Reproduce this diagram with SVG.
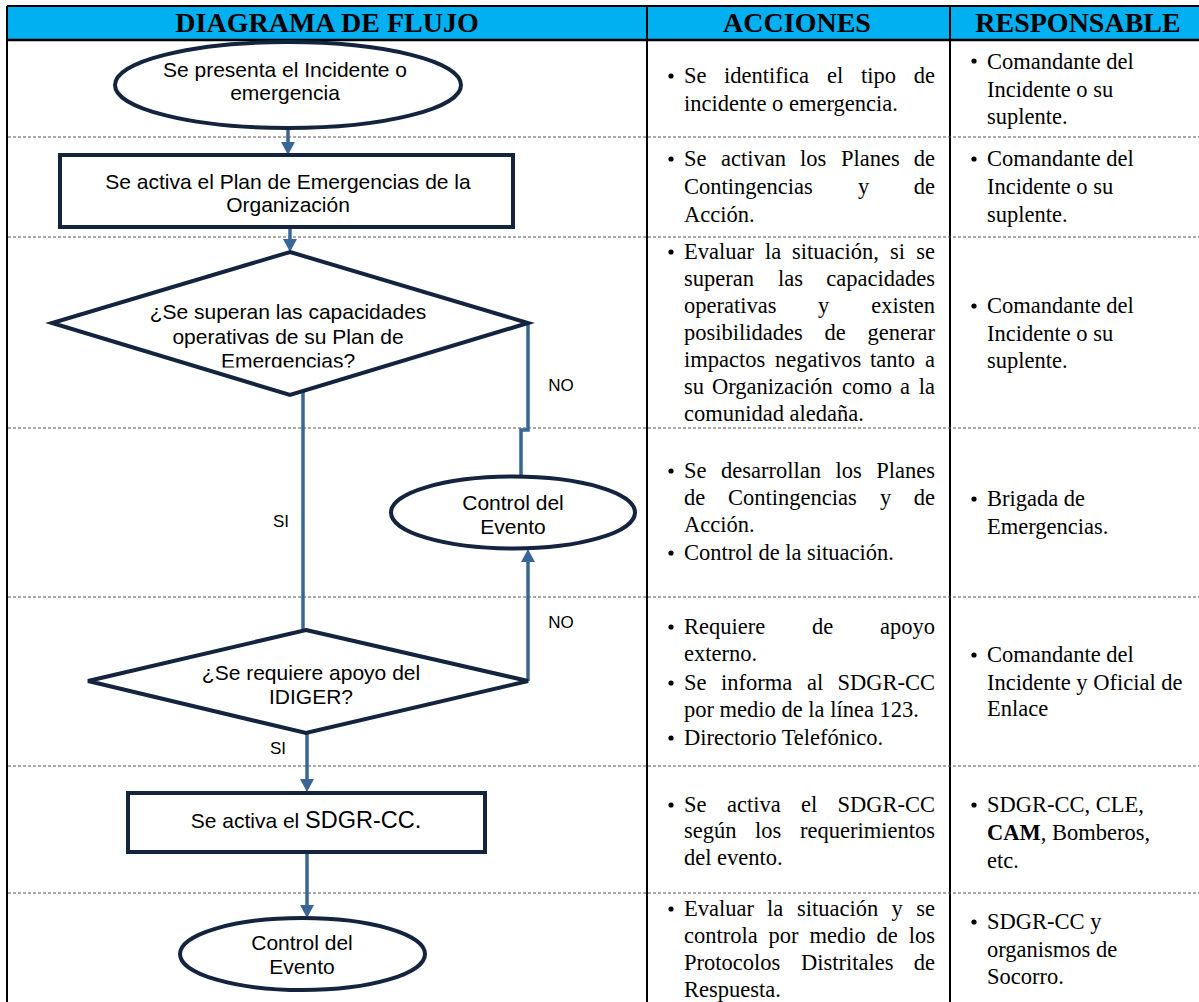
<svg xmlns="http://www.w3.org/2000/svg" width="1199" height="1002" viewBox="0 0 1199 1002">
<style>
.hdr{font-family:"Liberation Serif","Times New Roman",serif;font-weight:bold;font-size:28px;fill:#000;text-anchor:middle}
.nt{font-family:"Liberation Sans",Arial,sans-serif;font-size:21px;fill:#000;text-anchor:middle}
.lbl{font-family:"Liberation Sans",Arial,sans-serif;font-size:17px;fill:#000;text-anchor:middle}
.tx{font-family:"Liberation Serif","Times New Roman",serif;font-size:22.5px;fill:#000}
.te{text-anchor:end}
.node{fill:#fff;stroke:#14243e;stroke-width:4}
.conn{fill:none;stroke:#3a6597;stroke-width:3.5}
.grid{stroke:#000;stroke-width:2}
.dash{stroke:#555;stroke-width:1;stroke-dasharray:3 2}
.bul{fill:#000}
</style>
<defs>
<marker id="arr" markerUnits="userSpaceOnUse" markerWidth="14" markerHeight="14" refX="3" refY="7" orient="auto">
<path d="M0,0 L13,7 L0,14 Z" fill="#3a6597"/>
</marker>
<clipPath id="clipD1"><rect x="40" y="240" width="500" height="127.5"/></clipPath>
</defs>

<g id="table">
<rect x="7" y="6" width="1192" height="34" fill="#00b0f0"/>
<line class="grid" x1="7" y1="6" x2="1199" y2="6"/>
<line x1="7" y1="40" x2="1199" y2="40" stroke="#000" stroke-width="2.5"/>
<line class="grid" x1="7" y1="6" x2="7" y2="1002"/>
<line class="grid" x1="647" y1="6" x2="647" y2="1002"/>
<line class="grid" x1="950" y1="6" x2="950" y2="1002"/>
<line class="dash" x1="8" y1="137" x2="1199" y2="137"/>
<line class="dash" x1="8" y1="237" x2="1199" y2="237"/>
<line class="dash" x1="8" y1="428" x2="1199" y2="428"/>
<line class="dash" x1="8" y1="597" x2="1199" y2="597"/>
<line class="dash" x1="8" y1="766" x2="1199" y2="766"/>
<line class="dash" x1="8" y1="893" x2="1199" y2="893"/>
<text class="hdr" x="327" y="32">DIAGRAMA DE FLUJO</text>
<text class="hdr" x="797" y="32">ACCIONES</text>
<text class="hdr" x="1078" y="32">RESPONSABLE</text>
</g>

<g id="connectors">
<path class="conn" d="M288,128 L288,145" marker-end="url(#arr)"/>
<path class="conn" d="M290,227 L290,242" marker-end="url(#arr)"/>
<path class="conn" d="M303,391 L303,631"/>
<path class="conn" d="M528,323 L528,430 L521,430 L521,477"/>
<path class="conn" d="M528,681 L528,559" marker-end="url(#arr)"/>
<path class="conn" d="M307,733 L307,782" marker-end="url(#arr)"/>
<path class="conn" d="M307,852 L307,908" marker-end="url(#arr)"/>
<text class="lbl" x="561" y="391">NO</text>
<text class="lbl" x="281" y="527">SI</text>
<text class="lbl" x="561" y="628">NO</text>
<text class="lbl" x="278" y="754">SI</text>
</g>

<g id="n1">
<ellipse class="node" cx="288" cy="85" rx="173" ry="43"/>
<text class="nt" x="285" y="77">Se presenta el Incidente o</text>
<text class="nt" x="285" y="100">emergencia</text>
</g>

<g id="n2">
<rect class="node" x="60" y="155" width="453" height="72"/>
<text class="nt" x="288" y="189">Se activa el Plan de Emergencias de la</text>
<text class="nt" x="288" y="212">Organización</text>
</g>

<g id="n3">
<polygon class="node" points="290,252 528,323 290,395 52,323"/>
<g clip-path="url(#clipD1)">
<text class="nt" x="288" y="319">¿Se superan las capacidades</text>
<text class="nt" x="288" y="344">operativas de su Plan de</text>
<text class="nt" x="288" y="368">Emergencias?</text>
</g>
</g>

<g id="n4">
<ellipse class="node" cx="513" cy="512.5" rx="122" ry="36"/>
<text class="nt" x="513" y="510">Control del</text>
<text class="nt" x="513" y="534">Evento</text>
</g>

<g id="n5">
<polygon class="node" points="306,630 528,681 306,733 88,681"/>
<text class="nt" x="311" y="680">¿Se requiere apoyo del</text>
<text class="nt" x="311" y="704">IDIGER?</text>
</g>

<g id="n6">
<rect class="node" x="128" y="793" width="357" height="59"/>
<text class="nt" x="306" y="828">Se activa el <tspan font-size="23.5px">SDGR-CC.</tspan></text>
</g>

<g id="n7">
<ellipse class="node" cx="302.5" cy="954" rx="122.5" ry="36"/>
<text class="nt" x="302" y="950">Control del</text>
<text class="nt" x="302" y="974">Evento</text>
</g>

<g id="acciones">
<circle class="bul" cx="671" cy="76" r="2.6"/>
<text class="tx" x="684" y="83">Se</text><text class="tx" x="724" y="83">identifica</text><text class="tx" x="827" y="83">el</text><text class="tx" x="861" y="83">tipo</text><text class="tx te" x="935" y="83">de</text>
<text class="tx" x="684" y="111">incidente o emergencia.</text>

<circle class="bul" cx="671" cy="159" r="2.6"/>
<text class="tx" x="684" y="166">Se</text><text class="tx" x="721" y="166">activan</text><text class="tx" x="800" y="166">los</text><text class="tx" x="841" y="166">Planes</text><text class="tx te" x="935" y="166">de</text>
<text class="tx" x="684" y="194">Contingencias</text><text class="tx" x="858" y="194">y</text><text class="tx te" x="935" y="194">de</text>
<text class="tx" x="684" y="222">Acción.</text>

<circle class="bul" cx="671" cy="252" r="2.6"/>
<text class="tx" x="684" y="259">Evaluar</text><text class="tx" x="765" y="259">la</text><text class="tx" x="792" y="259">situación,</text><text class="tx" x="890" y="259">si</text><text class="tx te" x="935" y="259">se</text>
<text class="tx" x="684" y="286">superan</text><text class="tx" x="778" y="286">las</text><text class="tx te" x="935" y="286">capacidades</text>
<text class="tx" x="684" y="313">operativas</text><text class="tx" x="818" y="313">y</text><text class="tx te" x="935" y="313">existen</text>
<text class="tx" x="684" y="340">posibilidades</text><text class="tx" x="824.5" y="340">de</text><text class="tx te" x="935" y="340">generar</text>
<text class="tx" x="684" y="367">impactos</text><text class="tx" x="775" y="367">negativos</text><text class="tx" x="870" y="367">tanto</text><text class="tx te" x="935" y="367">a</text>
<text class="tx" x="684" y="394">su</text><text class="tx" x="712" y="394">Organización</text><text class="tx" x="842" y="394">como</text><text class="tx" x="900" y="394">a</text><text class="tx te" x="935" y="394">la</text>
<text class="tx" x="684" y="421">comunidad aledaña.</text>

<circle class="bul" cx="671" cy="471" r="2.6"/>
<text class="tx" x="684" y="478">Se</text><text class="tx" x="721" y="478">desarrollan</text><text class="tx" x="835.5" y="478">los</text><text class="tx te" x="935" y="478">Planes</text>
<text class="tx" x="684" y="505">de</text><text class="tx" x="728" y="505">Contingencias</text><text class="tx" x="880" y="505">y</text><text class="tx te" x="935" y="505">de</text>
<text class="tx" x="684" y="532">Acción.</text>
<circle class="bul" cx="671" cy="553" r="2.6"/>
<text class="tx" x="684" y="560">Control de la situación.</text>

<circle class="bul" cx="671" cy="627" r="2.6"/>
<text class="tx" x="684" y="634">Requiere</text><text class="tx" x="812" y="634">de</text><text class="tx te" x="935" y="634">apoyo</text>
<text class="tx" x="684" y="661">externo.</text>
<circle class="bul" cx="671" cy="683" r="2.6"/>
<text class="tx" x="684" y="690">Se</text><text class="tx" x="721" y="690">informa</text><text class="tx" x="807" y="690">al</text><text class="tx te" x="935" y="690">SDGR-CC</text>
<text class="tx" x="684" y="717">por medio de la línea 123.</text>
<circle class="bul" cx="671" cy="738" r="2.6"/>
<text class="tx" x="684" y="745">Directorio Telefónico.</text>

<circle class="bul" cx="671" cy="805" r="2.6"/>
<text class="tx" x="684" y="812">Se</text><text class="tx" x="727" y="812">activa</text><text class="tx" x="801" y="812">el</text><text class="tx te" x="935" y="812">SDGR-CC</text>
<text class="tx" x="684" y="838">según</text><text class="tx" x="755" y="838">los</text><text class="tx te" x="935" y="838">requerimientos</text>
<text class="tx" x="684" y="865">del evento.</text>

<circle class="bul" cx="671" cy="909" r="2.6"/>
<text class="tx" x="684" y="916">Evaluar</text><text class="tx" x="767" y="916">la</text><text class="tx" x="797" y="916">situación</text><text class="tx" x="891.6" y="916">y</text><text class="tx te" x="935" y="916">se</text>
<text class="tx" x="684" y="943">controla</text><text class="tx" x="768.6" y="943">por</text><text class="tx" x="809.5" y="943">medio</text><text class="tx" x="876.6" y="943">de</text><text class="tx te" x="935" y="943">los</text>
<text class="tx" x="684" y="970">Protocolos</text><text class="tx" x="801" y="970">Distritales</text><text class="tx te" x="935" y="970">de</text>
<text class="tx" x="684" y="997">Respuesta.</text>
</g>

<g id="responsable">
<circle class="bul" cx="974" cy="61" r="2.6"/>
<text class="tx" x="987" y="69">Comandante del</text>
<text class="tx" x="987" y="97">Incidente o su</text>
<text class="tx" x="987" y="124">suplente.</text>

<circle class="bul" cx="974" cy="159" r="2.6"/>
<text class="tx" x="987" y="166">Comandante del</text>
<text class="tx" x="987" y="194">Incidente o su</text>
<text class="tx" x="987" y="222">suplente.</text>

<circle class="bul" cx="974" cy="306" r="2.6"/>
<text class="tx" x="987" y="313">Comandante del</text>
<text class="tx" x="987" y="341">Incidente o su</text>
<text class="tx" x="987" y="368">suplente.</text>

<circle class="bul" cx="974" cy="499" r="2.6"/>
<text class="tx" x="987" y="506">Brigada de</text>
<text class="tx" x="987" y="534">Emergencias.</text>

<circle class="bul" cx="974" cy="655" r="2.6"/>
<text class="tx" x="987" y="662">Comandante del</text>
<text class="tx" x="987" y="690">Incidente y Oficial de</text>
<text class="tx" x="987" y="716">Enlace</text>

<circle class="bul" cx="974" cy="805" r="2.6"/>
<text class="tx" x="987" y="812">SDGR-CC, CLE,</text>
<text class="tx" x="987" y="840"><tspan font-weight="bold">CAM</tspan>, Bomberos,</text>
<text class="tx" x="987" y="868">etc.</text>

<circle class="bul" cx="974" cy="922" r="2.6"/>
<text class="tx" x="987" y="929">SDGR-CC y</text>
<text class="tx" x="987" y="957">organismos de</text>
<text class="tx" x="987" y="984">Socorro.</text>
</g>
</svg>
